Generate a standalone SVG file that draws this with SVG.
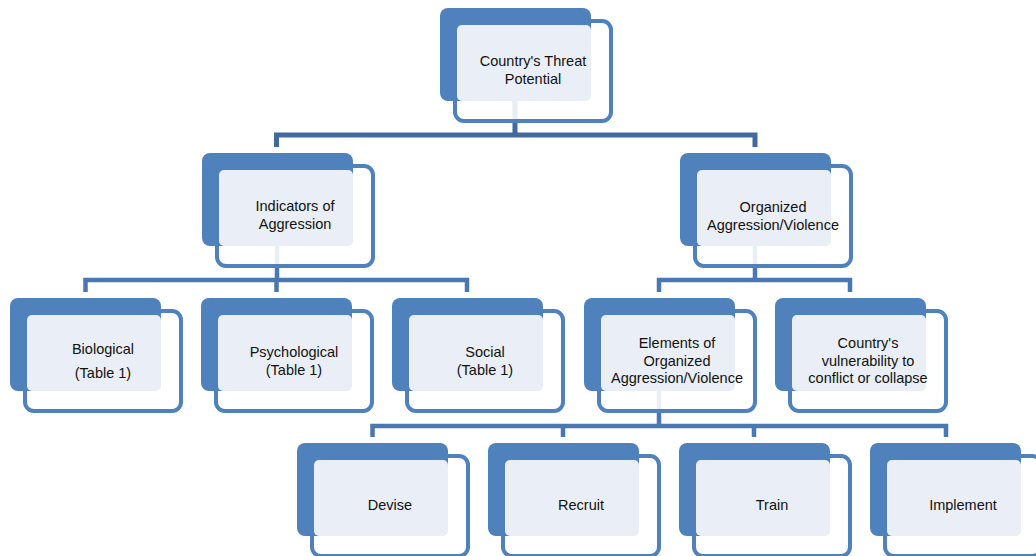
<svg xmlns="http://www.w3.org/2000/svg" width="1036" height="556" viewBox="0 0 1036 556">
<style>
.back{fill:#4f81bd;}
.outl{fill:#ffffff;fill-opacity:0.88;stroke:#4f81bd;stroke-width:4;}
.lite{fill:#eaeff7;}
.t{font-family:"Liberation Sans",Arial,sans-serif;font-size:14.5px;fill:#111;text-anchor:middle;}
.c1{fill:none;stroke:#41699f;stroke-width:5;}
.c2{fill:none;stroke:#4a78b4;stroke-width:4.5;}
</style>
<defs>
<g id="shape">
<rect class="outl" x="15" y="13" width="156" height="100" rx="9"/>
<rect class="back" x="0" y="0" width="151" height="93" rx="8"/>
<rect class="lite" x="17" y="17" width="134" height="76" rx="5"/>
</g>
</defs>
<g id="connectors">
<path class="c1" d="M515 60 V135 M276.5 147 V135 H755 V147"/>
<path class="c2" d="M277 205 V280 M85.5 292 V280 H467 V292 M276.5 280 V292"/>
<path class="c2" d="M755 205 V280 M659 292 V280 H850 V292"/>
<path class="c2" d="M659 350 V426 M372.5 437 V426 H946 V437 M563 426 V437 M754 426 V437"/>
</g>
<g id="n-top" transform="translate(440,8)"><use href="#shape"/>
<text class="t" x="93" y="58">Country's Threat</text><text class="t" x="93" y="76">Potential</text></g>
<g id="n-indicators" transform="translate(202,153)"><use href="#shape"/>
<text class="t" x="93" y="58">Indicators of</text><text class="t" x="93" y="76">Aggression</text></g>
<g id="n-organized" transform="translate(680,153)"><use href="#shape"/>
<text class="t" x="93" y="59">Organized</text><text class="t" x="93" y="77">Aggression/Violence</text></g>
<g id="n-biological" transform="translate(10,298)"><use href="#shape"/>
<text class="t" x="93" y="56">Biological</text><text class="t" x="93" y="80">(Table 1)</text></g>
<g id="n-psychological" transform="translate(201,298)"><use href="#shape"/>
<text class="t" x="93" y="59">Psychological</text><text class="t" x="93" y="77">(Table 1)</text></g>
<g id="n-social" transform="translate(392,298)"><use href="#shape"/>
<text class="t" x="93" y="59">Social</text><text class="t" x="93" y="77">(Table 1)</text></g>
<g id="n-elements" transform="translate(584,298)"><use href="#shape"/>
<text class="t" x="93" y="50">Elements of</text><text class="t" x="93" y="68">Organized</text><text class="t" x="93" y="85">Aggression/Violence</text></g>
<g id="n-vulnerability" transform="translate(775,298)"><use href="#shape"/>
<text class="t" x="93" y="50">Country's</text><text class="t" x="93" y="68">vulnerability to</text><text class="t" x="93" y="85">conflict or collapse</text></g>
<g id="n-devise" transform="translate(297,443)"><use href="#shape"/>
<text class="t" x="93" y="67">Devise</text></g>
<g id="n-recruit" transform="translate(488,443)"><use href="#shape"/>
<text class="t" x="93" y="67">Recruit</text></g>
<g id="n-train" transform="translate(679,443)"><use href="#shape"/>
<text class="t" x="93" y="67">Train</text></g>
<g id="n-implement" transform="translate(870,443)"><use href="#shape"/>
<text class="t" x="93" y="67">Implement</text></g>
</svg>
